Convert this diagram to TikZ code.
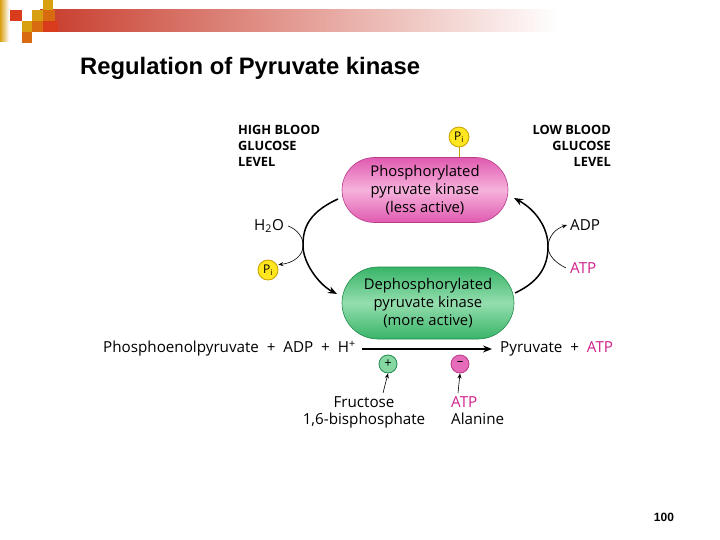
\documentclass[tikz,border=0pt]{standalone}
\usepackage{fontspec}
\setmainfont{Open Sans}
\newfontfamily\titlefont{Liberation Sans}
\usetikzlibrary{arrows.meta,shapes.misc}
\definecolor{pinkdark}{HTML}{E05AB0}
\definecolor{pinklight}{HTML}{F6B2DC}
\definecolor{pinkedge}{HTML}{B83C88}
\definecolor{greendark}{HTML}{38B468}
\definecolor{greenlight}{HTML}{94DEAE}
\definecolor{greenedge}{HTML}{238A4C}
\definecolor{magentatxt}{HTML}{D0208C}
\definecolor{piyellow}{HTML}{FFE61E}
\definecolor{piedge}{HTML}{C8A000}
\definecolor{barred}{HTML}{C83C2C}
\definecolor{sqgold}{HTML}{D8A010}
\definecolor{sqorange}{HTML}{D86A10}
\definecolor{sqred}{HTML}{D83C1C}
\tikzset{
  lbl/.style={font=\fontsize{15.2}{17}\selectfont, inner sep=0pt, align=center},
  pill/.style={rounded rectangle, minimum width=166pt, inner sep=0pt, align=center,
     font=\fontsize{14.8}{18}\selectfont},
  pipill/.style={circle, draw=piedge, fill=piyellow, line width=0.8pt, minimum size=20pt, inner sep=0pt,
     font=\fontsize{12}{12}\selectfont},
  effector/.style={circle, line width=0.8pt, minimum size=18pt, inner sep=0pt, font=\fontsize{13}{13}\selectfont},
  bigarc/.style={line width=1.5pt, -{Stealth[length=9pt,width=7pt]}},
  smallarc/.style={line width=0.6pt, -{Stealth[length=5pt,width=4pt]}},
  glc/.style={font=\fontsize{12.8}{16}\selectfont\bfseries, inner sep=0pt},
}
\begin{document}
\begin{tikzpicture}[x=1pt,y=-1pt]
\useasboundingbox (0,0) rectangle (720,540);
% header bar
\shade[left color=barred, right color=white] (40,10) rectangle (560,32);
\shade[left color=sqgold, right color=white] (0,0) rectangle (9,42);
\fill[sqred] (10,10) rectangle (22,21);
\fill[sqgold] (43,0) rectangle (53,10);
\fill[sqgold] (32,10) rectangle (43,21);
\fill[sqorange] (43,10) rectangle (55,21);
\fill[sqgold] (22,21) rectangle (32,32);
\fill[sqorange] (32,21) rectangle (43,32);
\fill[sqred] (43,21) rectangle (58,32);
\fill[sqorange] (22,32) rectangle (32,43);
% title
\node[anchor=base west, inner sep=0pt, font=\titlefont\fontsize{23.8}{26}\selectfont\bfseries] (title) at (80,75) {Regulation of Pyruvate kinase};
% glucose labels
\node[glc, anchor=north west, align=left] (high) at (238,125) {HIGH BLOOD\\GLUCOSE\\LEVEL};
\node[glc, anchor=north east, align=right] (low) at (611,125) {LOW BLOOD\\GLUCOSE\\LEVEL};
% pills
\node[pill, minimum height=65pt, draw=pinkedge, line width=0.6pt,
      top color=pinkdark, bottom color=pinkdark, middle color=pinklight] (phos) at (425,190)
      {Phosphorylated\\pyruvate kinase\\(less active)};
\node[pill, minimum height=72pt, minimum width=172pt, draw=greenedge, line width=0.6pt,
      top color=greendark, bottom color=greendark, middle color=greenlight] (dephos) at (428,303)
      {Dephosphorylated\\pyruvate kinase\\(more active)};
% Pi on top
\node[pipill] (pitop) at (459,137) {P\textsubscript{i}};
\draw[piedge, line width=0.8pt] (pitop) -- (phos.north -| pitop);
% left cycle arc
\coordinate (lstart) at (338,199);
\coordinate (lmid) at (303,246);
\coordinate (lend) at (337,294);
\draw[bigarc] (lstart) .. controls (305,214) and (303,232) .. (lmid)
   .. controls (303,262) and (318,284) .. (lend);
% right cycle arc
\coordinate (rstart) at (515,293);
\coordinate (rmid) at (548,246);
\coordinate (rend) at (514,198);
\draw[bigarc] (rstart) .. controls (543,280) and (548,262) .. (rmid)
   .. controls (548,228) and (536,210) .. (rend);
% H2O / Pi
\node[lbl, anchor=west] (h2o) at (254,226) {H\textsubscript{2}O};
\node[pipill] (pileft) at (268,270) {P\textsubscript{i}};
\draw[smallarc] ([xshift=4pt]h2o.east) .. controls (297,229) and (304,238) .. (lmid)
   .. controls (303,256) and (293,263) .. ([shift={(3pt,-2pt)}]pileft.north east);
% ATP / ADP
\node[lbl, anchor=west, text=magentatxt] (atpr) at (570,268) {ATP};
\node[lbl, anchor=west] (adpr) at (570,225) {ADP};
\draw[smallarc] ([xshift=-4pt]atpr.west) .. controls (556,263) and (548,256) .. (rmid)
   .. controls (549,236) and (555,229) .. ([xshift=-3pt]adpr.west);
% reaction
\node[lbl, anchor=west] (react) at (103,349) {Phosphoenolpyruvate \ + \ ADP \ + \ H\textsuperscript{+}};
\node[lbl, anchor=west] (prod) at (500,349) {Pyruvate \ + \ \textcolor{magentatxt}{ATP}};
\draw[line width=1.3pt, -{Stealth[length=9pt,width=7pt]}] ([xshift=6pt]react.east) -- ([xshift=-8pt]prod.west);
% effectors
\node[effector, draw=greenedge, fill=greenlight!85!greendark] (plus) at (388,364) {+};
\node[effector, draw=pinkedge, fill=pinkdark!80!pinklight] (minus) at (460,364) {\raisebox{1pt}{--}};
\node[lbl, anchor=north] (fruc) at (364,396) {Fructose\\1,6-bisphosphate};
\node[lbl, anchor=north west, align=left] (inh) at (451,396) {\textcolor{magentatxt}{ATP}\\Alanine};
\draw[smallarc] (383,393) -- (plus.south);
\draw[smallarc] (458,393) -- (minus.south);
% page number
\node[anchor=base, inner sep=0pt, font=\titlefont\fontsize{12}{12}\selectfont\bfseries] (pg) at (664,521) {100};
\end{tikzpicture}
\end{document}
